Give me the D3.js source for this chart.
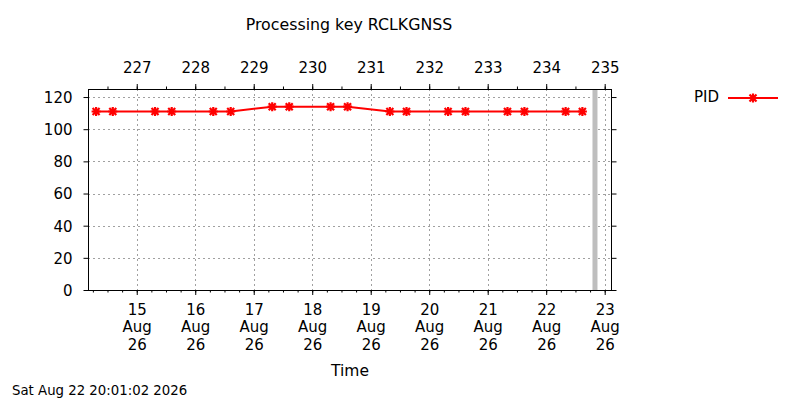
<!DOCTYPE html>
<html><head><meta charset="utf-8">
<script src="https://cdn.jsdelivr.net/npm/d3@7"></script>
<style>body{margin:0;background:#fff}svg{display:block}text{font-family:"DejaVu Sans",sans-serif;fill:#000}</style>
</head><body>
<svg id="c" width="800" height="400"></svg>
<script>
const title = "Processing key RCLKGNSS";
const seriesName = "PID";
const times = ["2026-08-14T07:19","2026-08-14T14:10","2026-08-15T07:30","2026-08-15T14:21",
  "2026-08-16T07:24","2026-08-16T14:33","2026-08-17T07:35","2026-08-17T14:34",
  "2026-08-18T07:32","2026-08-18T14:30","2026-08-19T07:51","2026-08-19T14:41",
  "2026-08-20T07:45","2026-08-20T14:53","2026-08-21T08:07","2026-08-21T15:04",
  "2026-08-22T07:59","2026-08-22T14:51"];
const pidValues = [111,111,111,111,111,111,114,114,114,114,111,111,111,111,111,111,111,111];
const timeDomain = ["2026-08-14T04:00","2026-08-23T03:00"];
const yTicks = [0,20,40,60,80,100,120];
const yDomain = [0,125];
const nowStamp = "2026-08-22T20:01:02";
const nowLabel = "Sat Aug 22 20:01:02 2026";
const xLabel = "Time";

const parse = s => new Date(s + "Z");
const svg = d3.select("#c");
const L = 88, R = 612, T = 89, B = 290;
const FS = 15;
const x = d3.scaleUtc().domain(timeDomain.map(parse)).range([L, R]);
const y = d3.scaleLinear().domain(yDomain).range([B, T]);
const data = times.map((t, i) => ({t: parse(t), v: pidValues[i]}));

// grid
const grid = svg.append("g").attr("stroke", "#a0a0a0").attr("stroke-width", 1).attr("stroke-dasharray", "2,3");
const dayTicks = d3.utcDay.range(d3.utcDay.ceil(x.domain()[0]), x.domain()[1]);
dayTicks.forEach(d => grid.append("line").attr("x1", Math.round(x(d)) + .5).attr("x2", Math.round(x(d)) + .5).attr("y1", T).attr("y2", B));
yTicks.filter(v => v > 0).forEach(v => grid.append("line").attr("x1", L).attr("x2", R).attr("y1", Math.round(y(v)) + .5).attr("y2", Math.round(y(v)) + .5));

// now bar
svg.append("rect").attr("x", x(parse(nowStamp)) - 2.5).attr("width", 5).attr("y", T).attr("height", B - T).attr("fill", "#bebebe");

// axes
const fmtBottom = d3.utcFormat("%-d");
const axBottom = d3.axisBottom(x).tickValues(dayTicks).tickSize(5).tickFormat("");
const axBottomMinor = d3.axisBottom(x).ticks(d3.utcHour.every(6)).tickSize(2.5).tickFormat("");
const axTop = d3.axisTop(x).tickValues(dayTicks).tickSize(5).tickFormat(d => d3.utcFormat("%-j")(d));
const axTopMinor = d3.axisTop(x).ticks(d3.utcHour.every(12)).tickSize(2.5).tickFormat("");
const axLeft = d3.axisLeft(y).tickValues(yTicks).tickSize(4.5).tickFormat(d3.format("d"));
const axRight = d3.axisRight(y).tickValues(yTicks).tickSize(4.5).tickFormat("");

function styleAxis(g) {
  g.select(".domain").remove();
  g.selectAll("line").attr("stroke", "#000");
  g.selectAll("text").attr("font-size", FS).attr("font-family", "DejaVu Sans");
}
svg.append("g").attr("transform", `translate(0,${B})`).call(axBottomMinor).call(styleAxis);
const gb = svg.append("g").attr("transform", `translate(0,${B})`).call(axBottom).call(styleAxis);
gb.selectAll(".tick").each(function(d) {
  const t = d3.select(this).append("text").attr("text-anchor", "middle").attr("font-size", FS);
  [fmtBottom(d), d3.utcFormat("%b")(d), d3.utcFormat("%y")(d)].forEach((s, i) =>
    t.append("tspan").attr("x", 0).attr("y", 24.5 + i * 17.5).text(s));
});
svg.append("g").attr("transform", `translate(0,${T})`).call(axTopMinor).call(styleAxis);
const gt = svg.append("g").attr("transform", `translate(0,${T})`).call(axTop).call(styleAxis);
gt.selectAll("text").attr("dy", 0).attr("y", -16.5);
const gl = svg.append("g").attr("transform", `translate(${L},0)`).call(axLeft).call(styleAxis);
gl.selectAll("text").attr("x", -15.5).attr("dy", "0.36em");
svg.append("g").attr("transform", `translate(${R},0)`).call(axRight).call(styleAxis);

// frame
svg.append("rect").attr("x", L + .5).attr("y", T + .5).attr("width", R - L - 1).attr("height", B - T).attr("fill", "none").attr("stroke", "#000");

// series
const line = d3.line().x(d => x(d.t)).y(d => y(d.v));
svg.append("path").datum(data).attr("d", line).attr("fill", "none").attr("stroke", "#ff0000").attr("stroke-width", 2);
const star = "M-4.5,0H4.5M0,-4.5V4.5M-3.5,-3.5L3.5,3.5M-3.5,3.5L3.5,-3.5";
svg.append("g").selectAll("path").data(data).join("path")
  .attr("transform", d => `translate(${x(d.t)},${y(d.v)})`).attr("d", star)
  .attr("stroke", "#ff0000").attr("stroke-width", 2.2).attr("fill", "none");

// legend
svg.append("text").attr("x", 719).attr("y", 97).attr("dy", "0.36em").attr("text-anchor", "end").attr("font-size", FS).text(seriesName);
svg.append("line").attr("x1", 728).attr("x2", 778).attr("y1", 98).attr("y2", 98).attr("stroke", "#ff0000").attr("stroke-width", 2);
svg.append("path").attr("transform", "translate(753,98)").attr("d", star).attr("stroke", "#ff0000").attr("stroke-width", 2.2);

// titles
svg.append("text").attr("x", 349).attr("y", 24).attr("dy", "0.36em").attr("text-anchor", "middle").attr("font-size", 15.8).text(title);
svg.append("text").attr("x", 350).attr("y", 370).attr("dy", "0.36em").attr("text-anchor", "middle").attr("font-size", 15.5).text(xLabel);
svg.append("text").attr("x", 12).attr("y", 390).attr("dy", "0.36em").attr("font-size", 13.3).text(nowLabel);
</script>
</body></html>
